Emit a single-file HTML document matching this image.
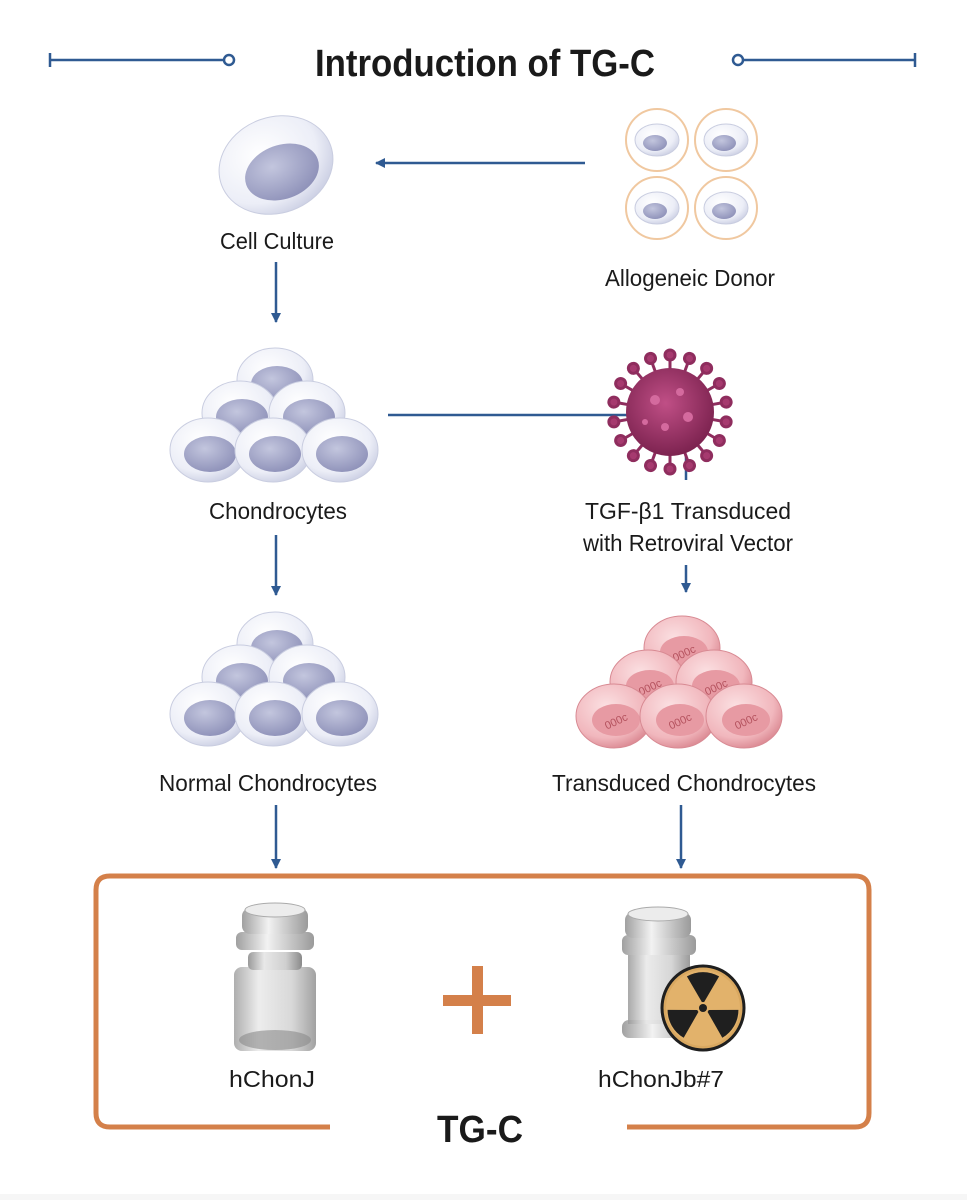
<!DOCTYPE html>
<html><head><meta charset="utf-8"><style>
html,body{margin:0;padding:0;background:#fff;}
svg{display:block;}
text{font-family:"Liberation Sans",sans-serif;fill:#1a1a1a;}
</style></head><body>
<svg width="967" height="1200" viewBox="0 0 967 1200" xmlns="http://www.w3.org/2000/svg">
<defs>
<radialGradient id="cell" cx="0.4" cy="0.35" r="0.7">
<stop offset="0" stop-color="#ffffff"/><stop offset="0.7" stop-color="#eceef7"/><stop offset="1" stop-color="#c9cde2"/>
</radialGradient>
<radialGradient id="nuc" cx="0.4" cy="0.35" r="0.7">
<stop offset="0" stop-color="#c3c6de"/><stop offset="1" stop-color="#8d90b8"/>
</radialGradient>
<radialGradient id="pcell" cx="0.4" cy="0.35" r="0.7">
<stop offset="0" stop-color="#fbe0e2"/><stop offset="0.7" stop-color="#f1b7bd"/><stop offset="1" stop-color="#d9858f"/>
</radialGradient>
<radialGradient id="vir" cx="0.45" cy="0.4" r="0.6">
<stop offset="0" stop-color="#c04f86"/><stop offset="1" stop-color="#7d2350"/>
</radialGradient>
<linearGradient id="glass" x1="0" x2="1">
<stop offset="0" stop-color="#9a9a9a"/><stop offset="0.3" stop-color="#e8e8e8"/><stop offset="0.7" stop-color="#cfcfcf"/><stop offset="1" stop-color="#8a8a8a"/>
</linearGradient>
<linearGradient id="cap" x1="0" x2="1">
<stop offset="0" stop-color="#a0a0a0"/><stop offset="0.4" stop-color="#f2f2f2"/><stop offset="1" stop-color="#9a9a9a"/>
</linearGradient>
<marker id="ah" markerWidth="10" markerHeight="10" refX="9" refY="5" orient="auto" markerUnits="userSpaceOnUse">
<path d="M0,0 L10,5 L0,10 z" fill="#2f5a92"/>
</marker>
<g id="c">
<ellipse cx="0" cy="0" rx="38" ry="32" fill="url(#cell)" stroke="#c9cde0" stroke-width="1"/>
<ellipse cx="2" cy="4" rx="26" ry="18" fill="url(#nuc)"/>
</g>
<g id="pc">
<ellipse cx="0" cy="0" rx="38" ry="32" fill="url(#pcell)" stroke="#d88a93" stroke-width="1"/>
<ellipse cx="2" cy="4" rx="24" ry="16" fill="#e79aa3"/>
<text x="2" y="9" font-size="11" text-anchor="middle" style="fill:#b5535f" transform="rotate(-25 2 5)">000&#1089;</text>
</g>
</defs>

<g stroke="#2f5a92" stroke-width="2.5" fill="#fff">
<line x1="50" y1="60" x2="224" y2="60"/><line x1="50" y1="53" x2="50" y2="67"/>
<circle cx="229" cy="60" r="5"/>
<line x1="743" y1="60" x2="915" y2="60"/><line x1="915" y1="53" x2="915" y2="67"/>
<circle cx="738" cy="60" r="5"/>
</g>
<text x="485" y="76" font-size="38" font-weight="bold" text-anchor="middle" textLength="340" lengthAdjust="spacingAndGlyphs">Introduction of TG-C</text>

<ellipse cx="276" cy="165" rx="58" ry="48" fill="url(#cell)" stroke="#c9cde0" transform="rotate(-20 276 165)"/>
<ellipse cx="282" cy="172" rx="38" ry="27" fill="url(#nuc)" transform="rotate(-20 282 172)"/>
<text x="277" y="249" font-size="23" text-anchor="middle" textLength="114" lengthAdjust="spacingAndGlyphs">Cell Culture</text>

<line x1="585" y1="163" x2="376" y2="163" stroke="#2f5a92" stroke-width="2.5" marker-end="url(#ah)"/>

<g fill="#fff" stroke="#f0c8a0" stroke-width="2">
<circle cx="657" cy="140" r="31"/><circle cx="726" cy="140" r="31"/>
<circle cx="657" cy="208" r="31"/><circle cx="726" cy="208" r="31"/>
</g>
<g>
<ellipse cx="657" cy="140" rx="22" ry="16" fill="url(#cell)" stroke="#c9cde0"/><ellipse cx="655" cy="143" rx="12" ry="8" fill="url(#nuc)"/>
<ellipse cx="726" cy="140" rx="22" ry="16" fill="url(#cell)" stroke="#c9cde0"/><ellipse cx="724" cy="143" rx="12" ry="8" fill="url(#nuc)"/>
<ellipse cx="657" cy="208" rx="22" ry="16" fill="url(#cell)" stroke="#c9cde0"/><ellipse cx="655" cy="211" rx="12" ry="8" fill="url(#nuc)"/>
<ellipse cx="726" cy="208" rx="22" ry="16" fill="url(#cell)" stroke="#c9cde0"/><ellipse cx="724" cy="211" rx="12" ry="8" fill="url(#nuc)"/>
</g>
<text x="690" y="286" font-size="23" text-anchor="middle" textLength="170" lengthAdjust="spacingAndGlyphs">Allogeneic Donor</text>

<line x1="276" y1="262" x2="276" y2="322" stroke="#2f5a92" stroke-width="2.5" marker-end="url(#ah)"/>

<use href="#c" x="275" y="380"/>
<use href="#c" x="240" y="413"/><use href="#c" x="307" y="413"/>
<use href="#c" x="208" y="450"/><use href="#c" x="273" y="450"/><use href="#c" x="340" y="450"/>
<text x="278" y="519" font-size="23" text-anchor="middle" textLength="138" lengthAdjust="spacingAndGlyphs">Chondrocytes</text>

<line x1="388" y1="415" x2="640" y2="415" stroke="#2f5a92" stroke-width="2.5"/>
<line x1="686" y1="455" x2="686" y2="480" stroke="#2f5a92" stroke-width="2.5"/>

<g transform="translate(670,412)">
<g stroke="#8f2d5e" stroke-width="3" fill="#a63a6f">
<g id="sp"><line x1="0" y1="-40" x2="0" y2="-56"/><circle cx="0" cy="-57" r="5"/></g>
<use href="#sp" transform="rotate(20)"/><use href="#sp" transform="rotate(40)"/><use href="#sp" transform="rotate(60)"/>
<use href="#sp" transform="rotate(80)"/><use href="#sp" transform="rotate(100)"/><use href="#sp" transform="rotate(120)"/>
<use href="#sp" transform="rotate(140)"/><use href="#sp" transform="rotate(160)"/><use href="#sp" transform="rotate(180)"/>
<use href="#sp" transform="rotate(200)"/><use href="#sp" transform="rotate(220)"/><use href="#sp" transform="rotate(240)"/>
<use href="#sp" transform="rotate(260)"/><use href="#sp" transform="rotate(280)"/><use href="#sp" transform="rotate(300)"/>
<use href="#sp" transform="rotate(320)"/><use href="#sp" transform="rotate(340)"/>
</g>
<circle r="44" fill="url(#vir)"/>
<g fill="#d46a9e"><circle cx="-15" cy="-12" r="5"/><circle cx="10" cy="-20" r="4"/><circle cx="18" cy="5" r="5"/><circle cx="-5" cy="15" r="4"/><circle cx="-25" cy="10" r="3"/></g>
</g>
<text x="688" y="519" font-size="23" text-anchor="middle" textLength="206" lengthAdjust="spacingAndGlyphs">TGF-β1 Transduced</text>
<text x="688" y="551" font-size="23" text-anchor="middle" textLength="210" lengthAdjust="spacingAndGlyphs">with Retroviral Vector</text>

<line x1="276" y1="535" x2="276" y2="595" stroke="#2f5a92" stroke-width="2.5" marker-end="url(#ah)"/>
<line x1="686" y1="565" x2="686" y2="592" stroke="#2f5a92" stroke-width="2.5" marker-end="url(#ah)"/>

<use href="#c" x="275" y="644"/>
<use href="#c" x="240" y="677"/><use href="#c" x="307" y="677"/>
<use href="#c" x="208" y="714"/><use href="#c" x="273" y="714"/><use href="#c" x="340" y="714"/>
<text x="268" y="791" font-size="23" text-anchor="middle" textLength="218" lengthAdjust="spacingAndGlyphs">Normal Chondrocytes</text>

<use href="#pc" x="682" y="648"/>
<use href="#pc" x="648" y="682"/><use href="#pc" x="714" y="682"/>
<use href="#pc" x="614" y="716"/><use href="#pc" x="678" y="716"/><use href="#pc" x="744" y="716"/>
<text x="684" y="791" font-size="23" text-anchor="middle" textLength="264" lengthAdjust="spacingAndGlyphs">Transduced Chondrocytes</text>

<line x1="276" y1="805" x2="276" y2="868" stroke="#2f5a92" stroke-width="2.5" marker-end="url(#ah)"/>
<line x1="681" y1="805" x2="681" y2="868" stroke="#2f5a92" stroke-width="2.5" marker-end="url(#ah)"/>

<path d="M330,1127 L110,1127 Q96,1127 96,1113 L96,890 Q96,876 110,876 L855,876 Q869,876 869,890 L869,1113 Q869,1127 855,1127 L627,1127" fill="none" stroke="#d4804a" stroke-width="5"/>
<text x="480" y="1142" font-size="38" font-weight="bold" text-anchor="middle" textLength="86" lengthAdjust="spacingAndGlyphs">TG-C</text>

<g>
<rect x="234" y="967" width="82" height="84" rx="8" fill="url(#glass)" opacity="0.8"/>
<ellipse cx="275" cy="1040" rx="36" ry="10" fill="#8a8a8a" opacity="0.6"/>
<rect x="248" y="952" width="54" height="18" rx="5" fill="url(#glass)"/>
<rect x="236" y="932" width="78" height="18" rx="6" fill="url(#cap)"/>
<rect x="242" y="908" width="66" height="26" rx="8" fill="url(#cap)"/>
<ellipse cx="275" cy="910" rx="30" ry="7" fill="#ececec" stroke="#aaa"/>
</g>
<text x="272" y="1087" font-size="23" text-anchor="middle" textLength="86" lengthAdjust="spacingAndGlyphs">hChonJ</text>

<rect x="472" y="966" width="11" height="68" fill="#d4804a"/>
<rect x="443" y="995" width="68" height="11" fill="#d4804a"/>

<g>
<rect x="622" y="1020" width="76" height="18" rx="7" fill="url(#cap)"/>
<rect x="628" y="950" width="62" height="74" fill="url(#glass)" opacity="0.85"/>
<rect x="622" y="935" width="74" height="20" rx="6" fill="url(#cap)"/>
<rect x="625" y="912" width="66" height="26" rx="8" fill="url(#cap)"/>
<ellipse cx="658" cy="914" rx="30" ry="7" fill="#ececec" stroke="#aaa"/>
</g>
<g transform="translate(703,1008)">
<ellipse rx="41" ry="42" fill="#d9a860" stroke="#1f1f1f" stroke-width="3"/>
<ellipse rx="37" ry="38" fill="#e2b26b"/>
<g fill="#1f1f1f">
<path d="M0,0 L-14,-24 A28,28 0 0 1 14,-24 Z" transform="translate(0,-4) scale(1.15)"/>
<path d="M0,0 L-14,-24 A28,28 0 0 1 14,-24 Z" transform="rotate(120) translate(0,-4) scale(1.15)"/>
<path d="M0,0 L-14,-24 A28,28 0 0 1 14,-24 Z" transform="rotate(240) translate(0,-4) scale(1.15)"/>
</g>
<circle r="6" fill="#e2b26b"/><circle r="4" fill="#1f1f1f"/>
</g>
<text x="661" y="1087" font-size="23" text-anchor="middle" textLength="126" lengthAdjust="spacingAndGlyphs">hChonJb#7</text>
<rect x="0" y="1194" width="967" height="6" fill="#f6f6f6"/>
</svg>
</body></html>
